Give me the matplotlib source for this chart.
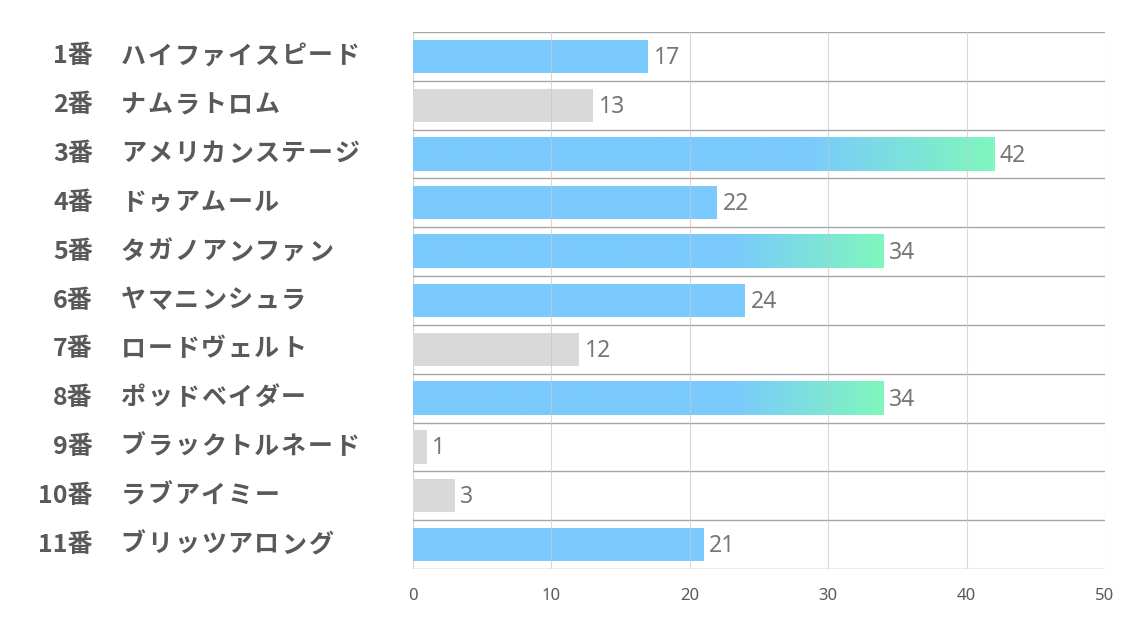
import numpy as np
import matplotlib.pyplot as plt
from matplotlib.colors import LinearSegmentedColormap

plt.rcParams['font.family'] = ['Noto Sans CJK JP', 'DejaVu Sans']

numbers = ['1番', '2番', '3番', '4番', '5番', '6番', '7番', '8番', '9番', '10番', '11番']
names = ['ハイファイスピード', 'ナムラトロム', 'アメリカンステージ', 'ドゥアムール', 'タガノアンファン',
         'ヤマニンシュラ', 'ロードヴェルト', 'ポッドベイダー', 'ブラックトルネード', 'ラブアイミー', 'ブリッツアロング']
values = [17, 13, 42, 22, 34, 24, 12, 34, 1, 3, 21]
# 'g' = gradient bar, 'b' = blue, 'n' = gray
kinds = ['b', 'n', 'g', 'b', 'g', 'b', 'n', 'g', 'n', 'n', 'b']

blue = '#7acafd'
gray = '#d9d9d9'
grad = LinearSegmentedColormap.from_list('bg', [(0, blue), (0.68, blue), (1, '#7ff7bd')])

W, H = 1134, 623
fig = plt.figure(figsize=(W / 100, H / 100), dpi=100)
ax = fig.add_axes([413 / W, 1 - 569 / H, (1105 - 413) / W, (569 - 32) / H])

n = len(values)
ypos = np.arange(n)
h = 0.68
ramp = np.linspace(0, 1, 512).reshape(1, -1)
for y, v, k in zip(ypos, values, kinds):
    if k == 'g':
        ax.imshow(ramp, cmap=grad, aspect='auto', zorder=2, interpolation='bilinear',
                  extent=[0, v, y + h / 2, y - h / 2])
    else:
        ax.barh(y, v, height=h, color=gray if k == 'n' else blue, zorder=2)
    ax.text(v + 0.4, y + 0.03, str(v), va='center', ha='left', fontsize=16.5,
            color='#767676', family=['Noto Sans', 'DejaVu Sans'])

ax.set_xlim(0, 50)
ax.set_ylim(n - 0.5, -0.5)
ax.set_xticks([0, 10, 20, 30, 40, 50])
ax.set_yticks([])
for y in np.arange(-0.5, n, 1.0):
    ax.axhline(y, color='#a6a6a6', lw=1, zorder=3)
for x in [10, 20, 30, 40, 50]:
    ax.axvline(x, color='#c8c8c8', lw=0.8, zorder=3, alpha=0.7)
ax.axvline(0, color='#d0d0d0', lw=0.8, zorder=1)
for s in ax.spines.values():
    s.set_visible(False)
ax.tick_params(axis='x', length=0, pad=14, labelsize=12, labelcolor='#595959')
for t in ax.get_xticklabels():
    t.set_family(['Noto Sans', 'DejaVu Sans'])

# names are set with a fixed character pitch, as in the reference
pitch = 26.7
for y, num, nm in zip(ypos, numbers, names):
    fy = ax.transData.transform((0, y))[1] / H
    fig.text(93 / W, fy, num, ha='right', va='center', fontsize=18,
             fontweight='bold', color='#595959')
    for i, ch in enumerate(nm):
        fig.text((120 + i * pitch + pitch / 2) / W, fy, ch, ha='center', va='center',
                 fontsize=18, fontweight='bold', color='#595959')

fig.savefig('out.png', dpi=100)
